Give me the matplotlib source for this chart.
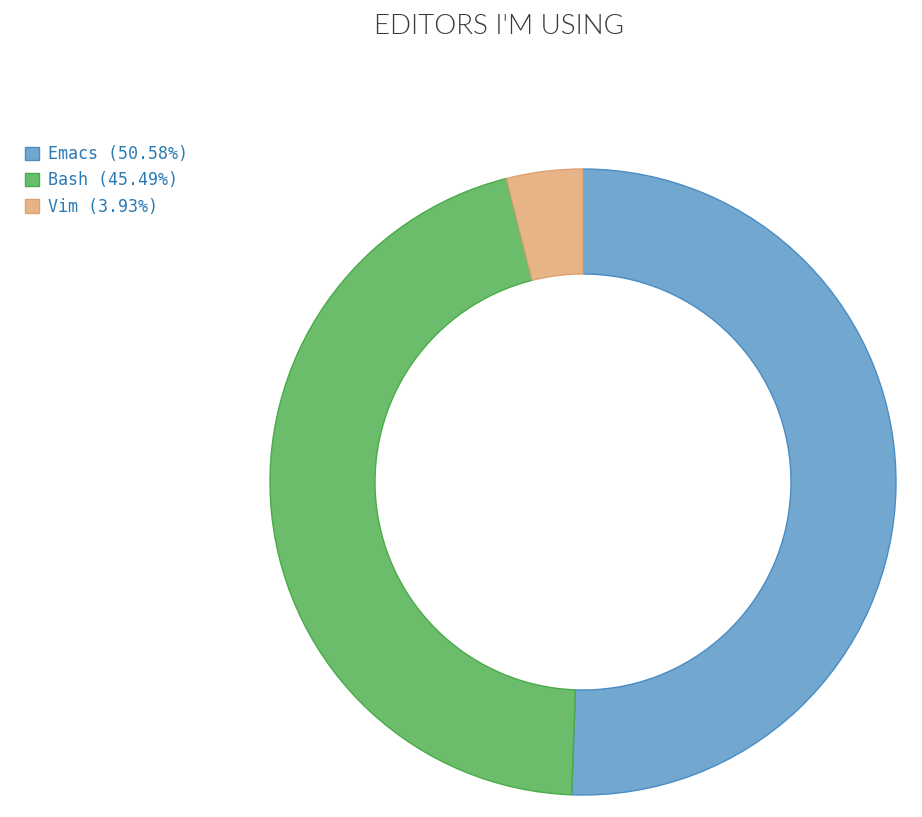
import matplotlib
matplotlib.use("Agg")
import matplotlib.pyplot as plt
from matplotlib.patches import Patch
from matplotlib import font_manager as fm

editors = ["Emacs", "Bash", "Vim"]
shares = [50.58, 45.49, 3.93]
fills = ["#72a7cf", "#6bbd6b", "#e6b487"]
edges = ["#4a8cc4", "#4aab4a", "#dfa070"]
title = "EDITORS I'M USING"

# locate Lato Light if available
lato_light = None
for f in fm.fontManager.ttflist:
    if f.name == "Lato" and f.weight in (300, "light") and f.style == "normal":
        lato_light = f.fname
        break

W, H = 922, 817
fig = plt.figure(figsize=(W / 100, H / 100), dpi=100)
ax = fig.add_axes([0, 0, 1, 1])

wedges, _ = ax.pie(shares, colors=fills, startangle=90, counterclock=False,
                   center=(583, H - 482), radius=313, frame=True,
                   wedgeprops=dict(width=105, linewidth=1.0))
for w, ec in zip(wedges, edges):
    w.set_edgecolor(ec)
ax.set_xlim(0, W)
ax.set_ylim(0, H)
ax.axis("off")

if lato_light:
    tprop = fm.FontProperties(fname=lato_light, size=20)
else:
    tprop = fm.FontProperties(family="Lato", weight="normal", size=20)
fig.text(499 / W, 1 - 27 / H, title, ha="center", va="center",
         fontproperties=tprop, color="#3a3a3a")

handles = [Patch(facecolor=f, edgecolor=e, linewidth=1.0) for f, e in zip(fills, edges)]
labels = [f"{n} ({v:.2f}%)" for n, v in zip(editors, shares)]
leg = fig.legend(handles, labels, loc="upper left",
                 bbox_to_anchor=(25 / W, 1 - 145 / H), frameon=False,
                 prop=dict(family="DejaVu Sans Mono", size=12),
                 handlelength=0.85, handleheight=0.85, handletextpad=0.5,
                 labelspacing=0.5, borderpad=0, borderaxespad=0)
for t in leg.get_texts():
    t.set_color("#2a7ab5")

fig.savefig("out.png", dpi=100)
